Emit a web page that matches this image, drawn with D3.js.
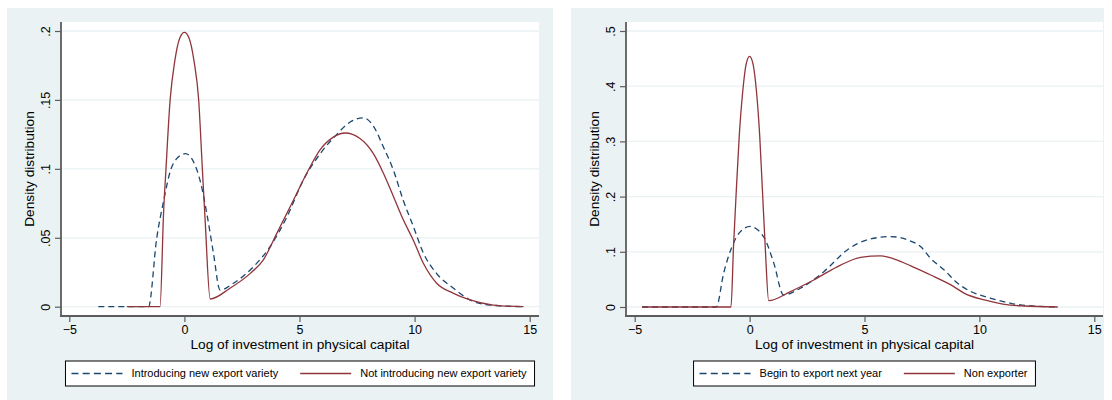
<!DOCTYPE html>
<html>
<head>
<meta charset="utf-8">
<script src="https://cdn.jsdelivr.net/npm/d3@7"></script>
<style>
	body { margin: 0; background: #fff; }
	svg { display: block; font-family: "Liberation Sans", Arial, Helvetica, sans-serif; }
</style>
</head>
<body>
<svg id="chart" width="1112" height="400"></svg>
<script>
// Values
const xTicks = [-5, 0, 5, 10, 15];
const leftYTicks = [0, .05, .1, .15, .2];
const rightYTicks = [0, .1, .2, .3, .4, .5];
const xTitle = 'Log of investment in physical capital';
const yTitle = 'Density distribution';
const leftLegend = ['Introducing new export variety', 'Not introducing new export variety'];
const rightLegend = ['Begin to export next year', 'Non exporter'];

// [log investment, density]
const leftIntro = [
	[-3.74, 0], [-1.56, 0], [-1.2, 0.05], [-0.9, 0.077], [-0.6, 0.099], [-0.3, 0.108],
	[0.05, 0.111], [0.4, 0.105], [0.72, 0.089], [0.97, 0.068], [1.26, 0.039], [1.55, 0.012],
	[2.13, 0.017], [3.0, 0.029], [3.72, 0.0435], [4.45, 0.065], [5.17, 0.092], [5.9, 0.111],
	[6.62, 0.125], [7.2, 0.134], [7.78, 0.137], [8.21, 0.131], [8.64, 0.116], [9.08, 0.099],
	[9.51, 0.077], [9.95, 0.058], [10.38, 0.039], [10.96, 0.024], [11.69, 0.0134],
	[12.41, 0.0049], [13.28, 0.0012], [14.73, 0]
];
const leftNotIntro = [
	[-2.5, 0], [-1.06, 0], [-0.9, 0.07], [-0.8, 0.1], [-0.62, 0.15], [-0.42, 0.178],
	[-0.2, 0.195], [0, 0.199], [0.2, 0.195], [0.42, 0.178], [0.62, 0.15], [0.78, 0.1],
	[0.9, 0.063], [1.12, 0.0056], [1.98, 0.0134], [2.85, 0.024], [3.43, 0.034], [4.01, 0.053],
	[4.73, 0.077], [5.32, 0.097], [5.9, 0.114], [6.47, 0.123], [6.98, 0.126], [7.63, 0.122],
	[8.21, 0.111], [8.64, 0.097], [9.08, 0.080], [9.51, 0.063], [9.95, 0.048], [10.38, 0.0315],
	[10.96, 0.017], [11.69, 0.0097], [12.41, 0.0049], [13.42, 0.0012], [14.73, 0]
];
const rightBegin = [
	[-4.68, 0], [-1.45, 0], [-1.13, 0.061], [-0.77, 0.109], [-0.41, 0.136], [0.03, 0.146],
	[0.4, 0.138], [0.68, 0.122], [1.05, 0.08], [1.48, 0.0218], [2.21, 0.034], [3.23, 0.064],
	[4.25, 0.1034], [5.12, 0.1216], [6.14, 0.1276], [6.87, 0.1216], [7.45, 0.109], [7.88, 0.088],
	[8.47, 0.067], [9.05, 0.043], [9.63, 0.028], [10.5, 0.0158], [11.37, 0.0067],
	[12.25, 0.0018], [13.41, 0]
];
const rightNon = [
	[-4.68, 0], [-0.81, 0], [-0.7, 0.109], [-0.58, 0.21], [-0.45, 0.31], [-0.3, 0.39],
	[-0.15, 0.44], [0, 0.454], [0.15, 0.44], [0.3, 0.39], [0.44, 0.31], [0.56, 0.21],
	[0.68, 0.109], [0.83, 0.0114], [1.78, 0.028], [2.79, 0.049], [3.96, 0.076], [4.83, 0.090],
	[5.7, 0.0926], [6.43, 0.085], [7.01, 0.0744], [7.88, 0.058], [8.76, 0.040], [9.35, 0.0248],
	[10.22, 0.0127], [11.08, 0.0049], [11.95, 0.0018], [13.41, 0]
];

const svg = d3.select('#chart');
const bgColor = '#eaf2f3';
const navy = '#1a476f';
const maroon = '#90353b';
const axisColor = '#5c5c5c';

const yFormat = (d) => d === 0 ? '0' : d3.format('.2~f')(d).replace(/^0/, '');

const drawPanel = (p) => {
	let g = svg.append('g');
	let top = 22, bottom = 316;

	// graph region and plot region
	g.append('rect').attr('x', p.bgX).attr('y', 8).attr('width', p.bgW).attr('height', 392)
		.attr('fill', bgColor);
	g.append('rect').attr('x', p.left).attr('y', top).attr('width', p.right - p.left)
		.attr('height', bottom - top).attr('fill', '#fff');

	let x = d3.scaleLinear().domain([-5, 15]).range(p.xRange);
	let y = d3.scaleLinear().domain([0, p.yTicks[p.yTicks.length - 1]]).range(p.yRange);

	// grid lines
	g.append('g')
		.selectAll('line')
		.data(p.yTicks)
		.enter()
		.append('line')
		.attr('x1', p.left).attr('x2', p.right)
		.attr('y1', (d) => y(d)).attr('y2', (d) => y(d))
		.attr('stroke', bgColor).attr('stroke-width', 1.3);

	// y axis with rotated labels
	let yAxis = g.append('g')
		.attr('transform', `translate(${p.left},0)`)
		.call(d3.axisLeft(y).tickValues(p.yTicks).tickSize(6).tickFormat(yFormat));
	yAxis.select('.domain').remove();
	yAxis.selectAll('.tick line').attr('stroke', axisColor).attr('stroke-width', 1.2);
	yAxis.selectAll('.tick text')
		.attr('transform', 'rotate(-90)')
		.attr('x', 0).attr('y', -11).attr('dy', 0)
		.attr('text-anchor', 'middle')
		.attr('font-size', 12.5).attr('fill', '#000')
		.attr('font-family', null);

	// x axis
	let xAxis = g.append('g')
		.attr('transform', `translate(0,${bottom})`)
		.call(d3.axisBottom(x).tickValues(xTicks).tickSize(6).tickFormat(d3.format('d')));
	xAxis.select('.domain').remove();
	xAxis.selectAll('.tick line').attr('stroke', axisColor).attr('stroke-width', 1.2);
	xAxis.selectAll('.tick text')
		.attr('y', 17.5).attr('dy', 0)
		.attr('font-size', 12.5).attr('fill', '#000')
		.attr('font-family', null);

	// axis lines
	g.append('line').attr('x1', p.left).attr('x2', p.left).attr('y1', top).attr('y2', bottom + 1)
		.attr('stroke', axisColor).attr('stroke-width', 1.8);
	g.append('line').attr('x1', p.left - 1).attr('x2', p.right).attr('y1', bottom).attr('y2', bottom)
		.attr('stroke', axisColor).attr('stroke-width', 1.8);

	// titles
	let midX = (p.left + p.right) / 2;
	g.append('text')
		.attr('x', midX).attr('y', 349)
		.attr('text-anchor', 'middle').attr('font-size', 13.7)
		.text(xTitle);
	g.append('text')
		.attr('transform', `translate(${p.left - 27},${(top + bottom) / 2}) rotate(-90)`)
		.attr('text-anchor', 'middle').attr('font-size', 13.7)
		.text(yTitle);

	// density curves
	let line = d3.line()
		.x((d) => x(d[0]))
		.y((d) => y(d[1]))
		.curve(d3.curveMonotoneX);
	g.append('path').datum(p.dashed).attr('d', line)
		.attr('fill', 'none').attr('stroke', navy).attr('stroke-width', 1.3)
		.attr('stroke-dasharray', '6,4');
	g.append('path').datum(p.solid).attr('d', line)
		.attr('fill', 'none').attr('stroke', maroon).attr('stroke-width', 1.3);

	// legend: measure text first, then lay out in one row centred under the plot
	let leg = g.append('g');
	let box = leg.append('rect');
	let texts = p.legend.map((t) => leg.append('text').attr('font-size', 11).attr('y', 377).text(t));
	let widths = texts.map((t) => t.node().getComputedTextLength());
	let keyW = 51, keyGap = 9, colGap = 22, padL = 6, padR = 8;
	let total = padL + 2 * (keyW + keyGap) + widths[0] + colGap + widths[1] + padR;
	let bx = midX - total / 2;
	box.attr('x', bx).attr('y', 361).attr('width', total).attr('height', 25)
		.attr('fill', '#fff').attr('stroke', '#000').attr('stroke-width', 1);
	let cx = bx + padL;
	[navy, maroon].forEach((c, i) => {
		let key = leg.append('line')
			.attr('x1', cx).attr('x2', cx + keyW).attr('y1', 373.5).attr('y2', 373.5)
			.attr('stroke', c).attr('stroke-width', 1.3);
		if (i === 0) key.attr('stroke-dasharray', '7,4.2');
		texts[i].attr('x', cx + keyW + keyGap);
		cx += keyW + keyGap + widths[i] + colGap;
	});
};

drawPanel({
	bgX: 7, bgW: 546, left: 61, right: 539,
	xRange: [69.3, 529.7], yRange: [306.7, 31],
	yTicks: leftYTicks, dashed: leftIntro, solid: leftNotIntro, legend: leftLegend
});
drawPanel({
	bgX: 571, bgW: 533, left: 626, right: 1103,
	xRange: [634.7, 1094.3], yRange: [307, 31],
	yTicks: rightYTicks, dashed: rightBegin, solid: rightNon, legend: rightLegend
});
</script>
</body>
</html>
